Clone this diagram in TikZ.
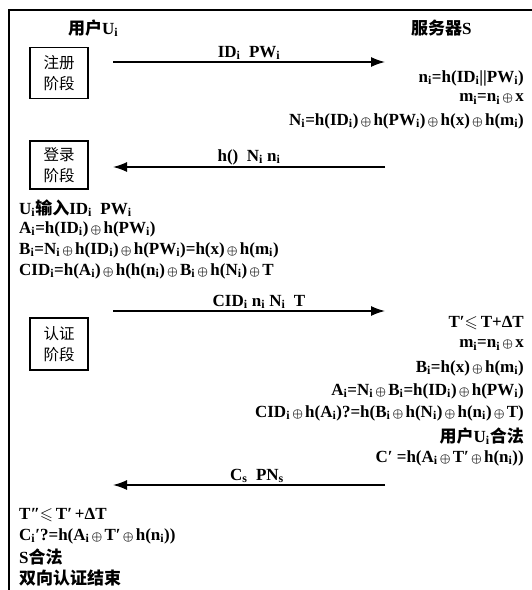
\documentclass[tikz,border=0pt]{standalone}
\usepackage{fontspec}
\usepackage{amssymb}
\setmainfont{Liberation Serif}
\newfontfamily\cjk{Noto Sans CJK SC}
\usetikzlibrary{arrows.meta}
\newcommand\sbs[1]{\textsubscript{#1}}
\newcommand\xo{\hspace{2.2pt}{\fontsize{13}{13}\selectfont$\oplus$}\hspace{2.2pt}}
\begin{document}
\begin{tikzpicture}[x=1pt,y=-1pt,
  every node/.style={font=\fontsize{17}{20}\selectfont\bfseries\boldmath, inner sep=0pt},
  frame/.style={line width=1.6pt},
  phase/.style={draw, line width=1.6pt, minimum width=58pt, minimum height=51pt, align=center, font=\fontsize{15.5}{21}\selectfont\cjk},
  msg/.style={line width=1.4pt, -{Latex[length=14pt,width=10pt]}},
  lbl/.style={above, inner sep=1.5pt},
  srv/.style={anchor=east},
  usr/.style={anchor=west}]
\useasboundingbox (0,0) rectangle (532,590);
\draw[frame] (532,10) -- (9,10) -- (9,590);
% headers
\node[anchor=west] (user) at (68,28) {{\cjk 用户}U\sbs{i}};
\node[anchor=west] (server) at (411,28) {{\cjk 服务器}S};
% phase boxes
\node[phase] (reg) at (59,73) {注册\\阶段};
\node[phase, minimum height=48pt] (login) at (59,165) {登录\\阶段};
\node[phase, minimum height=52pt] (auth) at (59,344) {认证\\阶段};
% arrow 1
\coordinate (a1s) at (113,62);
\coordinate (a1e) at (385,62);
\draw[msg] (a1s) -- node[lbl] {ID\sbs{i}\ \ PW\sbs{i}} (a1e);
\node[srv] (s1) at (524,78) {n\sbs{i}=h(ID\sbs{i}||PW\sbs{i})};
\node[srv] (s2) at (524,99) {m\sbs{i}=n\sbs{i}\xo x};
\node[srv] (s3) at (524,121) {N\sbs{i}=h(ID\sbs{i})\xo h(PW\sbs{i})\xo h(x)\xo h(m\sbs{i})};
% arrow 2
\coordinate (a2s) at (385,167);
\coordinate (a2e) at (113,167);
\draw[msg] (a2s) -- node[lbl] {h()\ \ N\sbs{i} n\sbs{i}} (a2e);
\node[usr] (u1) at (19,208) {U\sbs{i}{\cjk 输入}ID\sbs{i}\ \ PW\sbs{i}};
\node[usr] (u2) at (19,229) {A\sbs{i}=h(ID\sbs{i})\xo h(PW\sbs{i})};
\node[usr] (u3) at (19,250) {B\sbs{i}=N\sbs{i}\xo h(ID\sbs{i})\xo h(PW\sbs{i})=h(x)\xo h(m\sbs{i})};
\node[usr] (u4) at (19,271) {CID\sbs{i}=h(A\sbs{i})\xo h(h(n\sbs{i})\xo B\sbs{i}\xo h(N\sbs{i})\xo T};
% arrow 3
\coordinate (a3s) at (113,311);
\coordinate (a3e) at (385,311);
\draw[msg] (a3s) -- node[lbl, xshift=10pt] {CID\sbs{i}\ n\sbs{i}\ N\sbs{i}\ \ T} (a3e);
\node[srv] (s4) at (524,323) {T′$\leqslant$\,T+ΔT};
\node[srv] (s5) at (524,345) {m\sbs{i}=n\sbs{i}\xo x};
\node[srv] (s6) at (524,368) {B\sbs{i}=h(x)\xo h(m\sbs{i})};
\node[srv] (s7) at (524,391) {A\sbs{i}=N\sbs{i}\xo B\sbs{i}=h(ID\sbs{i})\xo h(PW\sbs{i})};
\node[srv] (s8) at (524,413) {CID\sbs{i}\xo h(A\sbs{i})?=h(B\sbs{i}\xo h(N\sbs{i})\xo h(n\sbs{i})\xo T)};
\node[srv] (s9) at (524,436) {{\cjk 用户}U\sbs{i}{\cjk 合法}};
\node[srv] (s10) at (524,458) {C′\ =h(A\sbs{i}\xo T′\xo h(n\sbs{i}))};
% arrow 4
\coordinate (a4s) at (385,485);
\coordinate (a4e) at (113,485);
\draw[msg] (a4s) -- node[lbl, xshift=8pt] {C\sbs{s}\ \ PN\sbs{s}} (a4e);
\node[usr] (u5) at (19,515) {T″$\leqslant$\,T′\,+ΔT};
\node[usr] (u6) at (19,536) {C\sbs{i}′?=h(A\sbs{i}\xo T′\xo h(n\sbs{i}))};
\node[usr] (u7) at (19,557) {S{\cjk 合法}};
\node[usr] (u8) at (19,578) {\cjk 双向认证结束};
\end{tikzpicture}
\end{document}
